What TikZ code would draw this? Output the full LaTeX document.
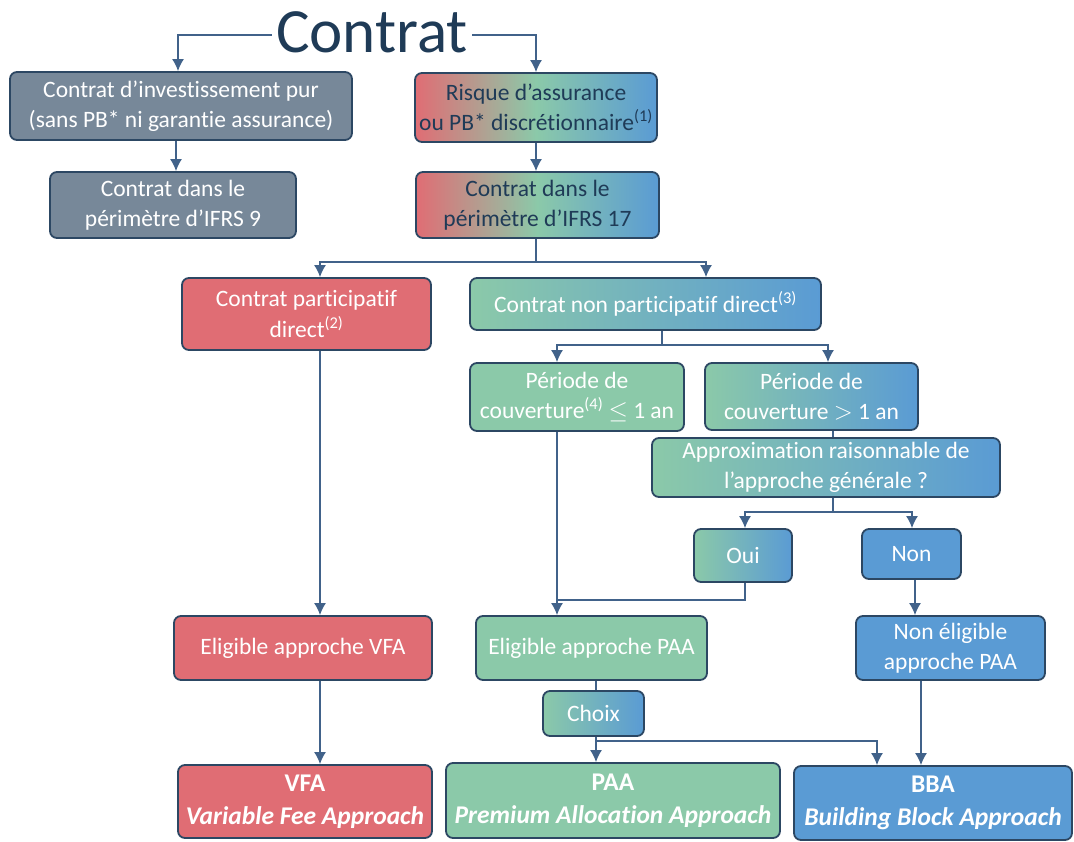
\documentclass[tikz,border=0pt]{standalone}
\usepackage{fontspec}
\setmainfont[Ligatures=NoCommon]{Carlito}
\usetikzlibrary{arrows.meta}

\definecolor{cred}{HTML}{E06D74}
\definecolor{cgreen}{HTML}{8BC9A9}
\definecolor{cblue}{HTML}{5A9BD4}
\definecolor{cgray}{HTML}{778899}
\definecolor{cborder}{HTML}{2C4763}
\definecolor{cline}{HTML}{41628A}
\definecolor{ctext}{HTML}{1F3B57}

\begin{document}
\begin{tikzpicture}[x=1pt,y=-1pt]

\tikzset{vertex/.style = {shape=rectangle,rounded corners=7pt,draw=cborder,line width=1.8pt,
  align=center,inner sep=2pt,text=white,font=\fontsize{23.5}{30.5}\selectfont}}
\tikzset{vgray/.style = {vertex,fill=cgray}}
\tikzset{vred/.style = {vertex,fill=cred}}
\tikzset{vgreen/.style = {vertex,fill=cgreen}}
\tikzset{vblue/.style = {vertex,fill=cblue}}
\tikzset{vgb/.style = {vertex,left color=cgreen,right color=cblue}}
\tikzset{vrgb/.style = {vertex,left color=cred,right color=cblue,middle color=cgreen,text=ctext}}
\tikzset{vbig/.style = {font=\fontsize{25.5}{33}\selectfont\bfseries}}
\tikzset{edge/.style = {->,> = {Latex[length=12pt,width=12pt]},draw=cline,line width=1.5pt}}
\tikzset{link/.style = {draw=cline,line width=1.5pt}}

\useasboundingbox (0,0) rectangle (1074,841);

%verticies
\node[text=ctext,font=\fontsize{63}{63}\selectfont,inner sep=4pt] (titre) at (372,32) {Contrat};
\node[vgray, minimum width=342, minimum height=68] (inv) at (181,106) {Contrat d’investissement pur\\(sans PB* ni garantie assurance)};
\node[vrgb, minimum width=242, minimum height=69] (risque) at (536,107.5) {Risque d’assurance\\ou PB* discrétionnaire\textsuperscript{(1)}};
\node[vgray, minimum width=246, minimum height=66] (ifrs9) at (173,205) {Contrat dans le\\périmètre d’IFRS 9};
\node[vrgb, minimum width=243, minimum height=66] (ifrs17) at (537.5,205) {Contrat dans le\\périmètre d’IFRS 17};
\node[vred, minimum width=249, minimum height=72] (part) at (306.5,314) {Contrat participatif\\direct\textsuperscript{(2)}};
\node[vgb, minimum width=351, minimum height=52] (nonpart) at (645.5,304) {Contrat non participatif direct\textsuperscript{(3)}};
\node[vgreen, minimum width=214, minimum height=68] (court) at (577,397) {Période de\\couverture\textsuperscript{(4)} $\leq$ 1 an};
\node[vgb, minimum width=213, minimum height=67] (long) at (811.5,396.5) {Période de\\couverture $>$ 1 an};
\node[vgb, minimum width=348, minimum height=59] (approx) at (826,467.5) {Approximation raisonnable de\\l’approche générale ?};
\node[vgb, minimum width=98, minimum height=53] (oui) at (743,555.5) {Oui};
\node[vblue, minimum width=99, minimum height=50] (non) at (911.5,554) {Non};
\node[vred, minimum width=258, minimum height=64] (evfa) at (303,648) {Eligible approche VFA};
\node[vgreen, minimum width=231, minimum height=64] (epaa) at (591.5,648) {Eligible approche PAA};
\node[vblue, minimum width=189, minimum height=64] (nepaa) at (950.5,648) {Non éligible\\approche PAA};
\node[vgb, minimum width=101, minimum height=45] (choix) at (593.5,713.5) {Choix};
\node[vred, vbig, minimum width=254, minimum height=73] (vfa) at (305,801.5) {VFA\\\itshape Variable Fee Approach};
\node[vgreen, vbig, minimum width=334, minimum height=75] (paa) at (613,800.5) {PAA\\\itshape Premium Allocation Approach};
\node[vblue, vbig, minimum width=278, minimum height=74] (bba) at (933,803) {BBA\\\itshape Building Block Approach};

%edges
\draw [edge] ([yshift=-3pt]titre.west) -| ([xshift=-3pt]inv.north);
\draw [edge] ([yshift=-3pt]titre.east) -| (risque.north);
\draw [edge] ([xshift=-5pt]inv.south) -- ([xshift=3pt]ifrs9.north);
\draw [edge] (risque.south) -- ([xshift=-1.5pt]ifrs17.north);
\coordinate (b1) at (536,262);
\draw [link] ([xshift=-1.5pt]ifrs17.south) -- (b1);
\draw [edge] (b1) -| ([xshift=13.5pt]part.north);
\draw [edge] (b1) -| ([xshift=60.5pt]nonpart.north);
\coordinate (b2) at (662,345);
\draw [link] ([xshift=16.5pt]nonpart.south) -- (b2);
\draw [edge] (b2) -| ([xshift=-20pt]court.north);
\draw [edge] (b2) -| ([xshift=16.5pt]long.north);
\draw [link] ([xshift=21.5pt]long.south) -- ([xshift=7pt]approx.north);
\coordinate (b3) at (833,512);
\draw [link] ([xshift=7pt]approx.south) -- (b3);
\draw [edge] (b3) -| ([xshift=2pt]oui.north);
\draw [edge] (b3) -| ([xshift=0.5pt]non.north);
\draw [edge] ([xshift=-20pt]court.south) -- ([xshift=-34.5pt]epaa.north);
\coordinate (b4) at (557,600);
\draw [link] ([xshift=2pt]oui.south) |- (b4);
\draw [edge] ([xshift=3.5pt]non.south) -- ([xshift=-35.5pt]nepaa.north);
\draw [edge] ([xshift=13.5pt]part.south) -- ([xshift=17pt]evfa.north);
\draw [edge] ([xshift=17pt]evfa.south) -- ([xshift=15pt]vfa.north);
\draw [link] ([xshift=4.5pt]epaa.south) -- ([xshift=2.5pt]choix.north);
\coordinate (b5) at (596,741);
\draw [edge] ([xshift=2.5pt]choix.south) -- ([xshift=-17pt]paa.north);
\draw [edge] (b5) -| ([xshift=-56pt]bba.north);
\draw [edge] ([xshift=-29.5pt]nepaa.south) -- ([xshift=-12pt]bba.north);

\end{tikzpicture}
\end{document}
